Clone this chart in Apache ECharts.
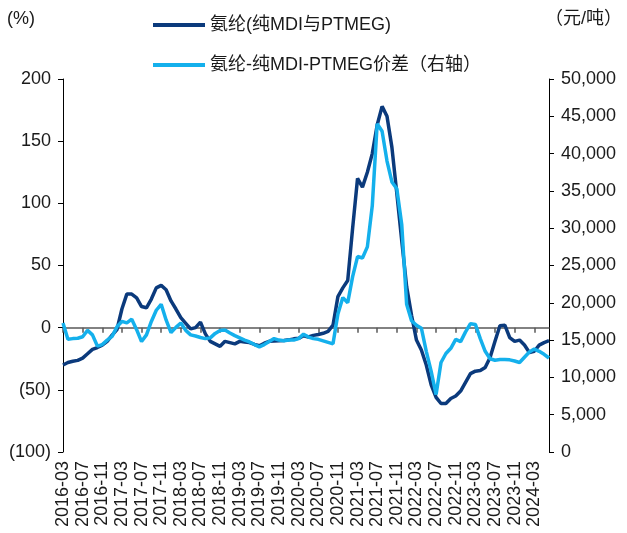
<!DOCTYPE html>
<html>
<head>
<meta charset="utf-8">
<script src="https://cdn.jsdelivr.net/npm/echarts@6/dist/echarts.min.js"></script>
<style>
  html, body { margin: 0; padding: 0; background: #ffffff; }
  #chart { width: 627px; height: 533px; }
</style>
</head>
<body>
<div id="chart"></div>
<script>
// Monthly spandex profit margin (%) and spread (yuan/ton), 2016-03 .. 2024-06
const startYear = 2016, startMonth = 3, monthCount = 100;
const months = [];
for (let k = 0; k < monthCount; k++) {
  const m = startMonth - 1 + k;
  const y = startYear + Math.floor(m / 12);
  const mm = (m % 12) + 1;
  months.push(y + '-' + (mm < 10 ? '0' + mm : mm));
}

// 氨纶(纯MDI与PTMEG), percent, left axis
const marginPct = [
  -30, -28, -27, -26.3, -24.5, -21, -17.5, -16, -14, -11,
  -6, -1.5, 15, 27, 27, 24, 17, 16, 23, 32,
  34, 30.5, 21.5, 15, 8, 3.5, -1, 0, 4.5, -5,
  -11, -13, -15, -11, -12, -13, -11, -11.5, -12, -13.5,
  -14.5, -12.5, -11, -10.8, -10.6, -10.3, -9.8, -9, -8.6, -6.5,
  -7.5, -6.2, -5.5, -4.5, -3, 2, 25, 32, 38, 80,
  120, 113, 125, 140, 163, 178, 170, 145, 108, 70,
  33, 10, -10, -18, -30, -46, -56, -61, -61, -57,
  -55, -51, -44, -37, -35, -34.5, -32, -24, -11, 1.5,
  2, -8, -11, -10, -14, -20, -19, -14, -12, -10.5
];

// 氨纶-纯MDI-PTMEG价差, yuan/ton, right axis
const spreadYuan = [
  17300, 15100, 15200, 15250, 15450, 16300, 15700, 14200, 14400, 15000,
  15500, 16800, 17500, 17300, 17800, 16400, 14800, 15700, 17500, 19000,
  19800, 17700, 16000, 16700, 17300, 16300, 15700, 15550, 15350, 15200,
  15300, 15900, 16300, 16350, 15950, 15600, 15300, 15000, 14750, 14400,
  14100, 14400, 14800, 15200, 15000, 14900, 15000, 15000, 15200, 15800,
  15400, 15200, 15100, 14900, 14700, 14500, 18500, 20700, 20000, 23500,
  26200, 26000, 27500, 33000, 44000, 43000, 39000, 36200, 35300, 30500,
  19800, 17600, 17000, 16600, 13500, 10800, 7700, 12000, 13200, 13900,
  15100, 14800, 16100, 17200, 17100, 15200, 13500, 12500, 12300, 12400,
  12400, 12350, 12200, 12000, 12700, 13400, 13800, 13500, 13100, 12600
];

const seriesNames = ['氨纶(纯MDI与PTMEG)', '氨纶-纯MDI-PTMEG价差（右轴）'];
const leftUnit = '(%)';
const rightUnit = '（元/吨）';

const FONT = '"Liberation Sans", Arial, "Noto Sans CJK SC", sans-serif';
const TEXT = '#1a1a1a';
const DARK = '#0b3a7c';
const LIGHT = '#14b0ec';

const chart = echarts.init(document.getElementById('chart'), null, { renderer: 'canvas' });

chart.setOption({
  animation: false,
  backgroundColor: '#ffffff',
  textStyle: { fontFamily: FONT },
  grid: { left: 63, right: 78, top: 79, bottom: 81, containLabel: false },
  legend: {
    orient: 'vertical',
    left: 148,
    top: 11,
    itemWidth: 52,
    itemHeight: 4,
    itemGap: 22,
    icon: 'rect',
    textStyle: { fontSize: 18, color: TEXT, fontFamily: FONT },
    data: seriesNames
  },
  graphic: [
    { type: 'text', left: 7, top: 10, style: { text: leftUnit, font: '18px ' + FONT, fill: TEXT } },
    { type: 'text', right: 5, top: 10, style: { text: rightUnit, font: '18px ' + FONT, fill: TEXT } }
  ],
  xAxis: [
    {
      // zero line with month ticks
      type: 'category',
      data: months,
      boundaryGap: false,
      position: 'bottom',
      axisLine: { show: true, onZero: true, onZeroAxisIndex: 0, lineStyle: { color: '#595959', width: 1.5 } },
      axisTick: { show: true, interval: 3, length: 5, lineStyle: { color: '#595959', width: 1.5 } },
      axisLabel: { show: false },
      splitLine: { show: false }
    },
    {
      // month labels along the bottom edge
      type: 'category',
      data: months,
      boundaryGap: false,
      position: 'bottom',
      axisLine: { show: false, onZero: false },
      axisTick: { show: false },
      axisLabel: {
        show: true, interval: 3, rotate: 90, margin: 9,
        fontSize: 18, color: TEXT, fontFamily: FONT
      },
      splitLine: { show: false }
    }
  ],
  yAxis: [
    {
      type: 'value',
      min: -100, max: 200, interval: 50,
      position: 'left',
      axisLine: { show: true, lineStyle: { color: '#000000', width: 1 } },
      axisTick: { show: true, length: 5, lineStyle: { color: '#000000' } },
      splitLine: { show: false },
      axisLabel: {
        margin: 12, fontSize: 18, color: TEXT, fontFamily: FONT,
        formatter: v => (v < 0 ? '(' + Math.abs(v) + ')' : String(v))
      }
    },
    {
      type: 'value',
      min: 0, max: 50000, interval: 5000,
      position: 'right',
      axisLine: { show: true, lineStyle: { color: '#000000', width: 1 } },
      axisTick: { show: true, length: 5, lineStyle: { color: '#000000' } },
      splitLine: { show: false },
      axisLabel: {
        margin: 12, fontSize: 18, color: TEXT, fontFamily: FONT,
        formatter: v => v.toLocaleString('en-US')
      }
    }
  ],
  series: [
    {
      name: seriesNames[0],
      type: 'line',
      xAxisIndex: 0, yAxisIndex: 0,
      data: marginPct,
      symbol: 'none',
      lineStyle: { color: DARK, width: 3.5 },
      itemStyle: { color: DARK },
      z: 3
    },
    {
      name: seriesNames[1],
      type: 'line',
      xAxisIndex: 0, yAxisIndex: 1,
      data: spreadYuan,
      symbol: 'none',
      lineStyle: { color: LIGHT, width: 3.5 },
      itemStyle: { color: LIGHT },
      z: 4
    }
  ]
});
</script>
</body>
</html>
